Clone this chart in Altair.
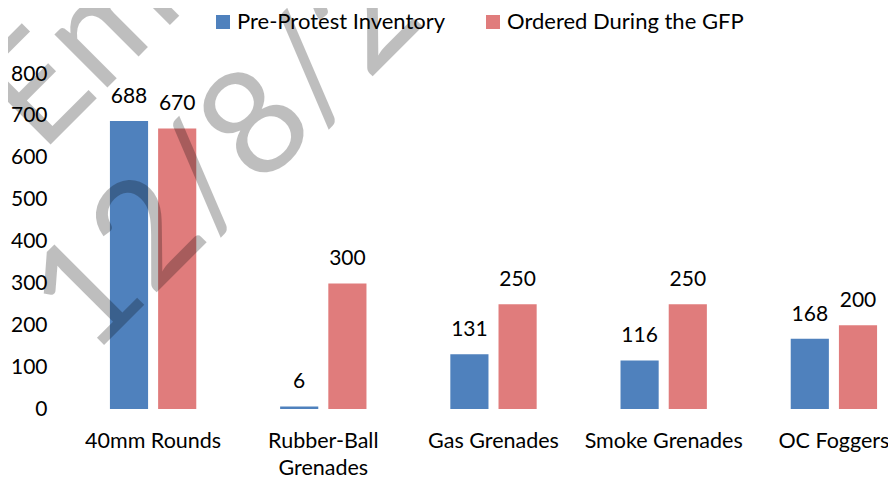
import altair as alt
import pandas as pd

categories = ["40mm Rounds", "Rubber-Ball\nGrenades", "Gas Grenades", "Smoke Grenades", "OC Foggers"]
series = ["Pre-Protest Inventory", "Ordered During the GFP"]
pre_protest = [688, 6, 131, 116, 168]
ordered = [670, 300, 250, 250, 200]
colors = ["#4F81BD", "#E07C7C"]
y_ticks = [0, 100, 200, 300, 400, 500, 600, 700, 800]
watermark_lines = ["Embargoed", "12/8/2020"]

rows = []
for i, c in enumerate(categories):
    rows.append({"category": c, "series": series[0], "value": pre_protest[i]})
    rows.append({"category": c, "series": series[1], "value": ordered[i]})
df = pd.DataFrame(rows)

FONT = "Lato"

x_enc = alt.X(
    "category:N",
    sort=categories,
    scale=alt.Scale(range=[0, 851], paddingInner=0, paddingOuter=0),
    axis=alt.Axis(
        title=None, labelExpr="split(datum.label, '\\n')", domain=False, ticks=False,
        labelAngle=0, labelFontSize=21.5, labelPadding=21, labelLineHeight=27,
        labelColor="black", labelFont=FONT,
    ),
)
xoff_enc = alt.XOffset("series:N", sort=series,
                       scale=alt.Scale(paddingInner=0.2083, paddingOuter=0.87))
y_enc = alt.Y(
    "value:Q",
    scale=alt.Scale(domain=[0, 800], nice=False),
    axis=alt.Axis(
        title=None, values=y_ticks, domain=False, ticks=False, grid=False,
        labelFontSize=21, labelPadding=21, labelColor="black", labelFont=FONT,
    ),
)

bars = alt.Chart(df).mark_bar().encode(
    x=x_enc,
    xOffset=xoff_enc,
    y=y_enc,
    color=alt.Color(
        "series:N", sort=series,
        scale=alt.Scale(domain=series, range=colors),
        legend=alt.Legend(
            title=None, orient="none", legendX=144, legendY=-63,
            direction="horizontal", symbolType="square", symbolSize=196,
            symbolStrokeWidth=0, labelFontSize=22, labelOffset=3,
            columnPadding=36, labelLimit=0, labelColor="black", labelFont=FONT,
        ),
    ),
)

labels = alt.Chart(df).mark_text(
    baseline="alphabetic", dy=-18, fontSize=21, color="black", font=FONT
).encode(
    x=alt.X("category:N", sort=categories),
    xOffset=alt.XOffset("series:N", sort=series),
    y=alt.Y("value:Q"),
    text=alt.Text("value:Q"),
)

wm1 = alt.Chart(pd.DataFrame({"t": [watermark_lines[0]]})).mark_text(
    align="left", baseline="alphabetic", angle=315, fontSize=148,
    color="black", opacity=0.25, font=FONT,
).encode(text="t:N", x=alt.value(-27), y=alt.value(80))

wm2 = alt.Chart(pd.DataFrame({"t": [watermark_lines[1]]})).mark_text(
    align="left", baseline="alphabetic", angle=315, fontSize=148,
    color="black", opacity=0.25, font=FONT,
).encode(text="t:N", x=alt.value(23), y=alt.value(284))

chart = alt.layer(bars, labels, wm1, wm2).properties(
    width=820,
    height=335,
    autosize=alt.AutoSizeParams(type="none"),
    padding={"left": 60, "top": 66, "right": 0, "bottom": 70},
).configure(font=FONT).configure_view(stroke=None)

chart.save("out.html", embed_options={"renderer": "svg", "actions": False})
